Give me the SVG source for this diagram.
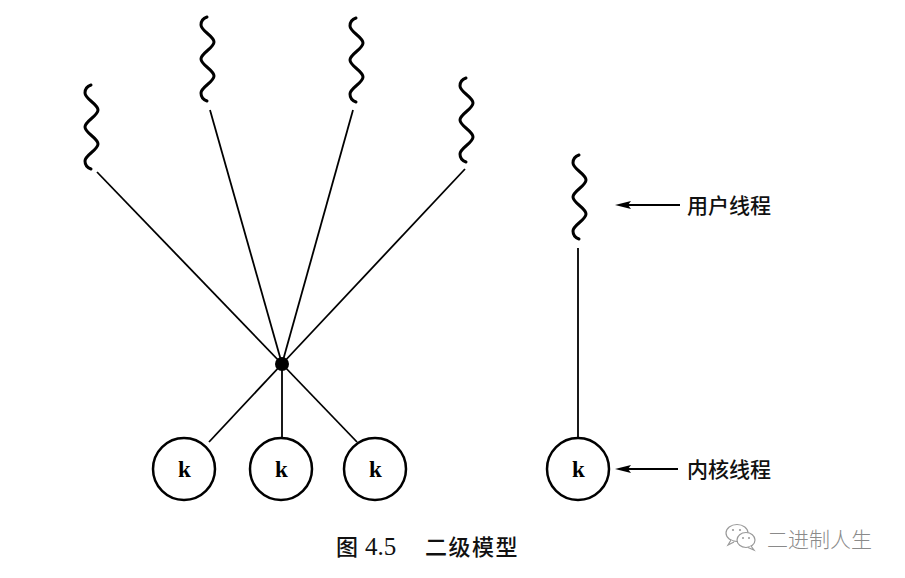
<svg xmlns="http://www.w3.org/2000/svg" xmlns:xlink="http://www.w3.org/1999/xlink" width="905" height="578" viewBox="0 0 905 578">
<style>
.wave{fill:none;stroke:#000;stroke-width:3;stroke-linecap:round;stroke-linejoin:round}
.conn{stroke:#000;stroke-width:1.8;fill:none}
.kc{fill:#fff;stroke:#000;stroke-width:2.5}
.kt{font-family:"Liberation Serif","DejaVu Serif",serif;font-weight:bold;font-size:23px;fill:#000;text-anchor:middle}
.lbl{font-family:"Noto Sans CJK SC","Noto Sans",sans-serif;font-weight:500;font-size:21px;fill:#111}
.cap{font-family:"Noto Sans CJK SC","Noto Sans",sans-serif;font-weight:500;font-size:22px;fill:#111}
.num{font-family:"Liberation Serif","DejaVu Serif",serif;font-size:25px;fill:#111}
.wm{font-family:"Noto Sans CJK SC","Noto Sans",sans-serif;font-weight:300;font-size:21px;fill:#8a8a8a}
</style>
<defs>
<path id="wave" d="M6,0 q-6,2 -6,8 c0,6 13,11 13,17 s-13,11 -13,17 s13,11 13,17 s-13,11 -13,17 q0,6 6,8"/>
<marker id="ah" markerWidth="16" markerHeight="8" refX="11" refY="4" orient="auto" markerUnits="userSpaceOnUse">
<path d="M0,0 L16,4 L0,8 L3,4 Z" fill="#000"/>
</marker>
</defs>
<rect width="905" height="578" fill="#fff"/>

<g id="connectors">
<line class="conn" x1="97" y1="172" x2="282" y2="364"/>
<line class="conn" x1="210" y1="110" x2="282" y2="364"/>
<line class="conn" x1="353" y1="110" x2="282" y2="364"/>
<line class="conn" x1="465" y1="169" x2="282" y2="364"/>
<line class="conn" x1="282" y1="364" x2="209" y2="442"/>
<line class="conn" x1="282" y1="364" x2="282" y2="438"/>
<line class="conn" x1="282" y1="364" x2="357" y2="442"/>
<line class="conn" x1="578" y1="248" x2="578" y2="438"/>
<line class="conn" x1="680" y1="205" x2="620" y2="205" marker-end="url(#ah)"/>
<line class="conn" x1="678" y1="469" x2="620" y2="469" marker-end="url(#ah)"/>
</g>

<g id="user-thread-1"><use xlink:href="#wave" class="wave" transform="translate(85,85)"/></g>
<g id="user-thread-2"><use xlink:href="#wave" class="wave" transform="translate(201,17)"/></g>
<g id="user-thread-3"><use xlink:href="#wave" class="wave" transform="translate(350,18)"/></g>
<g id="user-thread-4"><use xlink:href="#wave" class="wave" transform="translate(460,78)"/></g>
<g id="user-thread-legend"><use xlink:href="#wave" class="wave" transform="translate(573,155)"/></g>

<g id="junction"><circle cx="282" cy="364" r="7" fill="#000"/></g>

<g id="kernel-thread-1"><circle class="kc" cx="184" cy="469" r="31"/><text class="kt" x="184.5" y="476.5">k</text></g>
<g id="kernel-thread-2"><circle class="kc" cx="281" cy="469" r="31"/><text class="kt" x="281.5" y="476.5">k</text></g>
<g id="kernel-thread-3"><circle class="kc" cx="375" cy="469" r="31"/><text class="kt" x="375.5" y="476.5">k</text></g>
<g id="kernel-thread-legend"><circle class="kc" cx="578" cy="469" r="31"/><text class="kt" x="578.5" y="476.5">k</text></g>

<g id="label-user-thread"><text class="lbl" x="687" y="213">用户线程</text></g>
<g id="label-kernel-thread"><text class="lbl" x="687" y="477">内核线程</text></g>

<g id="caption">
<text class="cap" x="336" y="555">图</text>
<text class="num" x="365" y="555">4.5</text>
<text class="cap" x="425" y="555" letter-spacing="1.5">二级模型</text>
</g>

<g id="watermark">
<ellipse cx="737" cy="533" rx="11" ry="8.5" fill="#fff" stroke="#9a9a9a" stroke-width="1.2"/>
<path d="M731,540 l-3,5 l6,-3" fill="#fff" stroke="#9a9a9a" stroke-width="1.2"/>
<ellipse cx="746" cy="540" rx="9" ry="7.5" fill="#fff" stroke="#9a9a9a" stroke-width="1.2"/>
<path d="M751,546 l3,4 l-6,-2.5" fill="#fff" stroke="#9a9a9a" stroke-width="1.2"/>
<circle cx="733" cy="530" r="1.1" fill="#9a9a9a"/>
<circle cx="740" cy="530" r="1.1" fill="#9a9a9a"/>
<circle cx="743" cy="538" r="1" fill="#9a9a9a"/>
<circle cx="749" cy="538" r="1" fill="#9a9a9a"/>
<text class="wm" x="767" y="547">二进制人生</text>
</g>
</svg>
